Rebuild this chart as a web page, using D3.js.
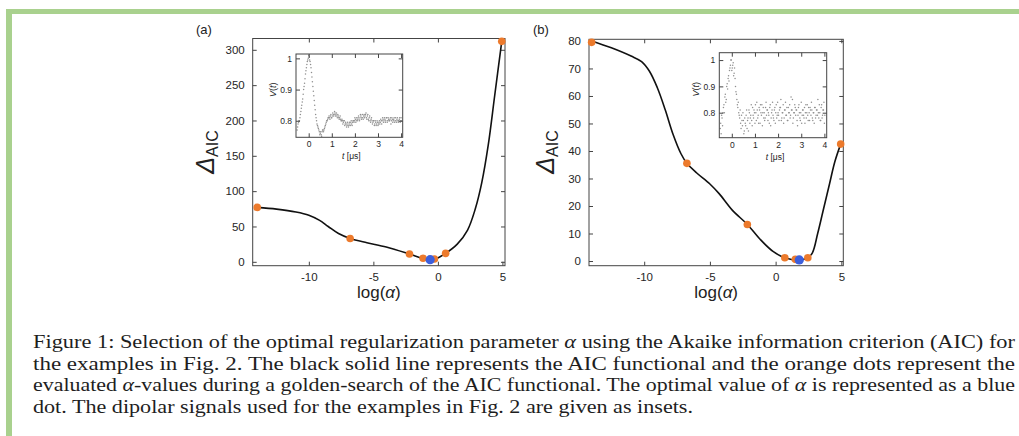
<!DOCTYPE html>
<html>
<head>
<meta charset="utf-8">
<script src="https://cdn.jsdelivr.net/npm/d3@7"></script>
<style>
  body { margin: 0; background: #fff; }
  svg { display: block; }
  .tick text { font-family: "Liberation Sans", Arial, sans-serif; fill: #262626; }
  .tick line { stroke: #444; }
</style>
</head>
<body>
<svg id="fig" width="1019" height="436"></svg>
<script>
// ---- panel (a): AIC functional ----
var curveAx = [-14.0, -12.5, -11.0, -10.0, -9.2, -8.5, -7.7, -6.8, -5.5, -4.0, -2.2, -1.2, -0.6, -0.2, 0.6, 1.5, 2.3, 2.9, 3.4, 3.9, 4.4, 4.95];
var curveAy = [77, 74.5, 70.5, 66, 59, 50, 40, 33, 27, 21, 11, 5, 3, 4, 12, 25, 45, 75, 112, 165, 235, 312];
var evalAx = [-14.0, -6.8, -2.2, -1.15, -0.27, 0.6, 4.95];
var evalAy = [77, 33, 11, 5, 4, 12, 312];
var optA = [-0.6, 3];

// ---- panel (b): AIC functional ----
var curveBx = [-14.0, -12.5, -11.0, -10.2, -9.6, -9.0, -8.4, -7.8, -7.2, -6.75, -6.0, -5.0, -4.3, -3.3, -2.15, -1.2, -0.2, 0.7, 1.8, 2.45, 2.8, 3.2, 3.6, 4.1, 4.5, 4.95];
var curveBy = [80, 77.5, 74.5, 72.5, 69, 63, 55, 46, 39, 35.5, 32, 28, 24.5, 18.5, 13.3, 8, 3.5, 1.2, 0.4, 1.2, 3, 10, 18, 28, 36, 42.5];
var evalBx = [-14.0, -6.75, -2.15, 0.7, 1.5, 2.45, 4.95];
var evalBy = [79.5, 35.5, 13.3, 1.2, 0.6, 1.2, 42.5];
var optB = [1.8, 0.4];

// ---- insets: dipolar signals V(t); two interleaved sample sets, every dt from t0 ----
var insetDt = 0.04;
var signalA = [0.77,0.79,0.80,0.81,0.83,0.85,0.87,0.90,0.92,0.95,0.97,0.99,1.00,1.005,0.99,0.97,0.94,0.91,0.88,0.85,
  0.82,0.80,0.785,0.775,0.765,0.76,0.755,0.765,0.77,0.77,0.78,0.79,0.80,0.805,0.81,0.81,0.815,0.81,0.815,0.82,
  0.82,0.825,0.82,0.815,0.82,0.81,0.81,0.805,0.80,0.80,0.795,0.80,0.79,0.79,0.785,0.79,0.785,0.79,0.795,0.79,
  0.795,0.80,0.80,0.805,0.80,0.805,0.81,0.805,0.81,0.815,0.81,0.81,0.815,0.81,0.82,0.81,0.815,0.805,0.81,0.80,
  0.805,0.80,0.795,0.80,0.79,0.795,0.79,0.795,0.79,0.80,0.795,0.80,0.80,0.805,0.80,0.805,0.80,0.81,0.80,0.805,
  0.80,0.81,0.80,0.805,0.80,0.81,0.80,0.80,0.805,0.80,0.80,0.81,0.80,0.80];
var signalA2 = [0.78,0.795,0.80,0.82,0.84,0.86,0.885,0.91,0.935,0.96,0.98,0.995,1.01,0.995,0.98,0.955,0.925,0.895,0.865,0.835,
  0.81,0.79,0.78,0.77,0.755,0.765,0.75,0.77,0.765,0.775,0.785,0.795,0.80,0.81,0.815,0.805,0.82,0.81,0.825,0.815,
  0.83,0.815,0.825,0.81,0.815,0.805,0.815,0.80,0.805,0.79,0.80,0.785,0.795,0.78,0.795,0.78,0.795,0.785,0.80,0.785,
  0.80,0.795,0.81,0.795,0.81,0.80,0.815,0.80,0.82,0.805,0.82,0.805,0.82,0.815,0.825,0.805,0.82,0.80,0.815,0.795,
  0.81,0.79,0.80,0.785,0.80,0.785,0.80,0.785,0.795,0.79,0.805,0.79,0.81,0.795,0.81,0.795,0.81,0.795,0.81,0.80,
  0.805,0.79,0.81,0.795,0.805,0.795,0.81,0.795,0.81,0.795,0.805,0.795,0.81];
var signalB = [0.74,0.72,0.78,0.80,0.83,0.86,0.84,0.90,0.89,0.94,0.96,0.98,1.00,0.97,0.99,0.95,0.93,0.88,0.85,0.82,
  0.80,0.78,0.76,0.79,0.75,0.77,0.73,0.76,0.79,0.74,0.78,0.81,0.76,0.79,0.77,0.82,0.78,0.80,0.83,0.77,
  0.81,0.79,0.82,0.76,0.80,0.83,0.80,0.78,0.77,0.82,0.79,0.81,0.80,0.76,0.83,0.78,0.81,0.79,0.77,0.82,
  0.80,0.78,0.84,0.79,0.81,0.82,0.77,0.80,0.83,0.78,0.81,0.79,0.82,0.77,0.80,0.83,0.79,0.81,0.85,0.78,
  0.80,0.82,0.81,0.77,0.79,0.83,0.78,0.80,0.76,0.81,0.79,0.82,0.80,0.78,0.83,0.77,0.80,0.82,0.79,0.81,
  0.77,0.80,0.82,0.78,0.81,0.79,0.80,0.83,0.77,0.82,0.78,0.81,0.84,0.79];
var signalB2 = [0.76,0.79,0.75,0.82,0.80,0.87,0.85,0.91,0.93,0.92,0.97,1.00,0.96,0.98,0.94,0.97,0.90,0.87,0.83,0.84,
  0.79,0.81,0.74,0.77,0.80,0.72,0.78,0.75,0.81,0.77,0.73,0.80,0.78,0.83,0.75,0.79,0.81,0.76,0.80,0.84,
  0.78,0.76,0.81,0.83,0.79,0.75,0.82,0.80,0.78,0.84,0.81,0.77,0.79,0.82,0.75,0.80,0.84,0.78,0.81,0.76,
  0.83,0.79,0.80,0.77,0.82,0.85,0.78,0.80,0.76,0.81,0.84,0.79,0.77,0.82,0.80,0.78,0.86,0.81,0.76,0.80,
  0.83,0.79,0.81,0.75,0.82,0.80,0.77,0.84,0.79,0.81,0.78,0.76,0.83,0.80,0.79,0.82,0.77,0.81,0.84,0.78,
  0.80,0.76,0.82,0.79,0.81,0.85,0.78,0.80,0.77,0.83,0.79,0.81,0.76];

var captionLines = [
  ["Figure 1: Selection of the optimal regularization parameter ", "α", " using the Akaike information criterion (AIC) for"],
  ["the examples in Fig. 2.  The black solid line represents the AIC functional and the orange dots represent the"],
  ["evaluated ", "α", "-values during a golden-search of the AIC functional. The optimal value of ", "α", " is represented as a blue"],
  ["dot. The dipolar signals used for the examples in Fig. 2 are given as insets."]
];

var orange = "#ec7a2c", blue = "#3d5fdc", green = "#a9d18e";
var sans = "'Liberation Sans', Arial, sans-serif";
var svg = d3.select("#fig");

// green page frame
svg.append("rect").attr("x", 6).attr("y", 9).attr("width", 1013).attr("height", 5).attr("fill", green);
svg.append("rect").attr("x", 6).attr("y", 9).attr("width", 6).attr("height", 427).attr("fill", green);

function boxAxes(g, x, y, xt, yt, fs, padX, padY) {
  var fmt = function (d) { return String(d); };
  var x0 = x.range()[0], x1 = x.range()[1], y0 = y.range()[0], y1 = y.range()[1];
  g.append("g").attr("transform", "translate(0," + y0 + ")")
    .call(d3.axisBottom(x).tickValues(xt).tickFormat(fmt).tickSizeInner(-4).tickSizeOuter(0).tickPadding(padX));
  g.append("g").attr("transform", "translate(0," + y1 + ")")
    .call(d3.axisTop(x).tickValues(xt).tickFormat("").tickSizeInner(-4).tickSizeOuter(0));
  g.append("g").attr("transform", "translate(" + x0 + ",0)")
    .call(d3.axisLeft(y).tickValues(yt).tickFormat(fmt).tickSizeInner(-4).tickSizeOuter(0).tickPadding(padY));
  g.append("g").attr("transform", "translate(" + x1 + ",0)")
    .call(d3.axisRight(y).tickValues(yt).tickFormat("").tickSizeInner(-4).tickSizeOuter(0));
  g.selectAll(".domain").remove();
  g.selectAll(".tick text").attr("font-size", fs).attr("font-family", sans);
  g.append("rect").attr("x", x0).attr("y", y1).attr("width", x1 - x0).attr("height", y0 - y1)
    .attr("fill", "none").attr("stroke", "#444").attr("stroke-width", 1);
}

function panel(opt) {
  var g = svg.append("g");
  var x = d3.scaleLinear().domain(opt.xDom).range(opt.xRange);
  var y = d3.scaleLinear().domain(opt.yDom).range(opt.yRange);
  boxAxes(g, x, y, [-10, -5, 0, 5], opt.yTicks, 11.5, 7, 8);

  var pts = d3.zip(opt.cx, opt.cy);
  g.append("path").datum(pts)
    .attr("d", d3.line().x(function (d) { return x(d[0]); }).y(function (d) { return y(d[1]); }).curve(d3.curveCatmullRom.alpha(0.5)))
    .attr("fill", "none").attr("stroke", "#111").attr("stroke-width", 1.6);
  g.selectAll(".eval").data(d3.zip(opt.ex, opt.ey)).join("circle")
    .attr("cx", function (d) { return x(d[0]); }).attr("cy", function (d) { return y(d[1]); })
    .attr("r", 3.8).attr("fill", orange);
  g.append("circle").attr("cx", x(opt.best[0])).attr("cy", y(opt.best[1])).attr("r", 4.6).attr("fill", blue);

  // panel letter
  g.append("text").attr("x", opt.letterX).attr("y", 34).attr("font-family", sans).attr("font-size", 13)
    .attr("fill", "#222").text(opt.letter);
  // y label: Delta_AIC
  var yl = g.append("text").attr("transform", "translate(" + opt.yLabelX + ",152) rotate(-90)")
    .attr("text-anchor", "middle").attr("font-family", sans).attr("fill", "#222");
  yl.append("tspan").attr("font-size", 25).attr("font-style", "italic").text("Δ");
  yl.append("tspan").attr("font-size", 16).attr("dy", 4).text("AIC");
  // x label: log(alpha)
  var xl = g.append("text").attr("x", (opt.xRange[0] + opt.xRange[1]) / 2).attr("y", 298)
    .attr("text-anchor", "middle").attr("font-family", sans).attr("font-size", 17).attr("fill", "#222");
  xl.append("tspan").text("log(");
  xl.append("tspan").attr("font-style", "italic").text("α");
  xl.append("tspan").text(")");

  // inset
  var ig = svg.append("g");
  var ix = d3.scaleLinear().domain(opt.inset.xDom).range(opt.inset.xRange);
  var iy = d3.scaleLinear().domain(opt.inset.yDom).range(opt.inset.yRange);
  ig.append("rect").attr("x", ix.range()[0]).attr("y", iy.range()[1])
    .attr("width", ix.range()[1] - ix.range()[0]).attr("height", iy.range()[0] - iy.range()[1]).attr("fill", "#fff");
  [[opt.inset.v, -0.5], [opt.inset.v2, -0.48]].forEach(function (set) {
    ig.append("g").selectAll("circle").data(set[0]).join("circle")
      .attr("cx", function (d, i) { return ix(set[1] + i * insetDt); })
      .attr("cy", function (d) { return iy(d); })
      .attr("r", 0.75).attr("fill", "#8f8f8f");
  });
  boxAxes(ig, ix, iy, [0, 1, 2, 3, 4], [0.8, 0.9, 1], 8.5, 4, 4);
  var itl = ig.append("text").attr("x", (ix.range()[0] + ix.range()[1]) / 2 + 2).attr("y", iy.range()[0] + 22)
    .attr("text-anchor", "middle").attr("font-family", sans).attr("font-size", 8.5).attr("fill", "#222");
  itl.append("tspan").attr("font-style", "italic").text("t");
  itl.append("tspan").text(" [μs]");
  var ivl = ig.append("text")
    .attr("transform", "translate(" + (ix.range()[0] - 20) + "," + ((iy.range()[0] + iy.range()[1]) / 2 - 6) + ") rotate(-90)")
    .attr("text-anchor", "middle").attr("font-family", sans).attr("font-size", 9).attr("fill", "#222");
  ivl.append("tspan").attr("font-style", "italic").text("V");
  ivl.append("tspan").text("(");
  ivl.append("tspan").attr("font-style", "italic").text("t");
  ivl.append("tspan").text(")");
}

panel({
  xDom: [-14.35, 5.2], xRange: [252.7, 505], yDom: [-5.5, 316], yRange: [265.7, 38.5],
  yTicks: [0, 50, 100, 150, 200, 250, 300],
  cx: curveAx, cy: curveAy, ex: evalAx, ey: evalAy, best: optA,
  letter: "(a)", letterX: 196, yLabelX: 214,
  inset: { xDom: [-0.55, 4.07], xRange: [296, 402.7], yDom: [0.747, 1.014], yRange: [137.3, 54], v: signalA, v2: signalA2 }
});
panel({
  xDom: [-14.2, 5.15], xRange: [589, 843.3], yDom: [-1.7, 80.6], yRange: [265.7, 39.3],
  yTicks: [0, 10, 20, 30, 40, 50, 60, 70, 80],
  cx: curveBx, cy: curveBy, ex: evalBx, ey: evalBy, best: optB,
  letter: "(b)", letterX: 533, yLabelX: 554,
  inset: { xDom: [-0.54, 4.1], xRange: [719.3, 826.7], yDom: [0.705, 1.028], yRange: [137.7, 52.7], v: signalB, v2: signalB2 }
});

// caption
var capWidths = [982, 982, 982, 660];
captionLines.forEach(function (parts, li) {
  var t = svg.append("text").attr("x", 33).attr("y", 348 + li * 21.6)
    .attr("font-family", "'Liberation Serif', 'Times New Roman', serif").attr("font-size", 18).attr("fill", "#1e1e1e")
    .attr("textLength", capWidths[li]).attr("lengthAdjust", "spacingAndGlyphs");
  parts.forEach(function (p) {
    var s = t.append("tspan").text(p);
    if (p === "α") s.attr("font-style", "italic");
  });
});
</script>
</body>
</html>
